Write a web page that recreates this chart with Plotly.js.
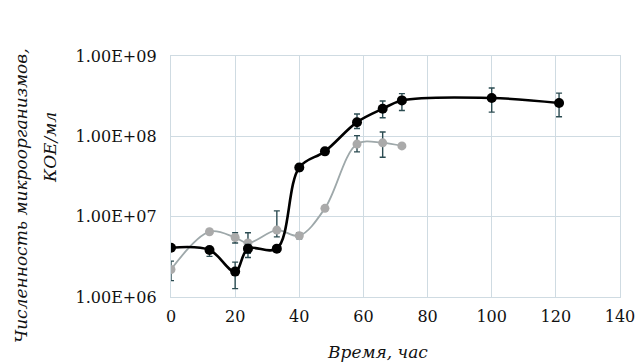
<!DOCTYPE html>
<html><head><meta charset="utf-8">
<script src="https://cdn.plot.ly/plotly-3.0.1.min.js"></script>
<style>body{margin:0;background:#fff}#c{width:636px;height:364px}</style>
</head><body><div id="c"></div>
<script>
// Black series
const blackX = [0, 12, 20, 24, 33, 40, 48, 58, 66, 72, 100, 121];
const blackY = [4.1e6, 3.85e6, 2.07e6, 4.0e6, 4.0e6, 4.1e7, 6.5e7, 1.5e8, 2.2e8, 2.8e8, 3.0e8, 2.6e8];
const blackErrPlus  = [0.3e6, 0.3e6, 0.65e6, 0.5e6, 0.3e6, 0.4e7, 0.5e7, 0.4e8, 0.55e8, 0.6e8, 1.0e8, 0.85e8];
const blackErrMinus = [0.3e6, 0.65e6, 0.8e6, 0.5e6, 0.3e6, 0.4e7, 0.5e7, 0.25e8, 0.5e8, 0.7e8, 1.0e8, 0.85e8];
// Grey series
const greyX = [0, 12, 20, 24, 33, 40, 48, 58, 66, 72];
const greyY = [2.2e6, 6.5e6, 5.5e6, 4.7e6, 6.8e6, 5.8e6, 1.27e7, 8.0e7, 8.3e7, 7.6e7];
const greyErrPlus  = [0.6e6, 0.3e6, 0.8e6, 1.6e6, 5.0e6, 0.5e6, 0.5e6, 2.2e7, 3.0e7, 0.5e7];
const greyErrMinus = [0.6e6, 0.3e6, 0.8e6, 1.6e6, 1.2e6, 0.5e6, 0.5e6, 1.6e7, 2.8e7, 0.5e7];
// Tick labels
const yTickVals = [1e6, 1e7, 1e8, 1e9];
const yTickText = ["1.00E+06", "1.00E+07", "1.00E+08", "1.00E+09"];
const xTickVals = [0, 20, 40, 60, 80, 100, 120, 140];
const xTitle = "Время, час";
const yTitle1 = "Численность микроорганизмов,";
const yTitle2 = "КОЕ/мл";

const errColor = "#2c4c52";
const fam = "DejaVu Serif";
const traces = [
  {x: greyX, y: greyY, type: "scatter", mode: "lines+markers",
   line: {shape: "spline", smoothing: 1, color: "#9ea8aa", width: 1.8},
   marker: {color: "#aaaaaa", size: 9},
   error_y: {type: "data", symmetric: false, array: greyErrPlus, arrayminus: greyErrMinus,
             color: errColor, thickness: 1.4, width: 3}},
  {x: blackX, y: blackY, type: "scatter", mode: "lines+markers",
   line: {shape: "spline", smoothing: 1, color: "#000000", width: 2.6},
   marker: {color: "#000000", size: 10},
   error_y: {type: "data", symmetric: false, array: blackErrPlus, arrayminus: blackErrMinus,
             color: errColor, thickness: 1.4, width: 3}}
];
const font = {family: fam, size: 16, color: "#111"};
const titleFont = {family: fam, size: 17, color: "#111", style: "italic"};
const layout = {
  width: 636, height: 364,
  margin: {l: 171, r: 16, t: 56, b: 67},
  paper_bgcolor: "#fff", plot_bgcolor: "#fff",
  showlegend: false, font: font,
  xaxis: {range: [0, 140], tickvals: xTickVals, showgrid: true, gridcolor: "#cfdbe2",
          gridwidth: 1.2, zeroline: false, showline: true, linecolor: "#cfdbe2", linewidth: 1.2,
          mirror: true, ticks: "", ticklabelstandoff: 5, tickfont: font},
  yaxis: {type: "log", range: [6, 9], tickvals: yTickVals, ticktext: yTickText,
          showgrid: true, gridcolor: "#cfdbe2", gridwidth: 1.2, zeroline: false,
          showline: true, linecolor: "#cfdbe2", linewidth: 1.2, mirror: true,
          ticks: "", ticklabelstandoff: 10, tickfont: font},
  annotations: [
    {text: xTitle, xref: "paper", yref: "paper", x: (377 - 171) / 449, y: (297 - 352) / 241,
     xanchor: "center", yanchor: "middle", showarrow: false, font: titleFont},
    {text: yTitle1, xref: "paper", yref: "paper", x: (21 - 171) / 449, y: (297 - 196) / 241,
     xanchor: "center", yanchor: "middle", showarrow: false, textangle: -90, font: titleFont},
    {text: yTitle2, xref: "paper", yref: "paper", x: (50 - 171) / 449, y: (297 - 148) / 241,
     xanchor: "center", yanchor: "middle", showarrow: false, textangle: -90, font: titleFont}
  ]
};
Plotly.newPlot("c", traces, layout, {displayModeBar: false, staticPlot: true});
</script></body></html>
